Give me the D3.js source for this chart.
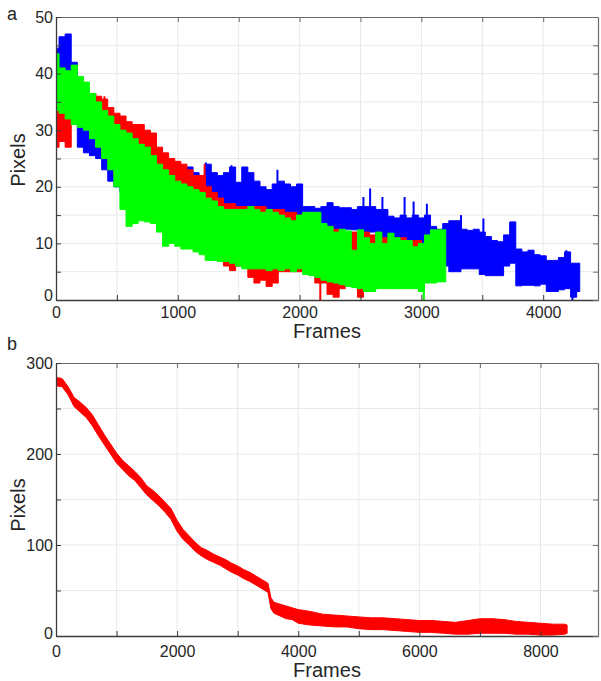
<!DOCTYPE html>
<html><head><meta charset="utf-8">
<script src="https://cdn.jsdelivr.net/npm/d3@7"></script>
<style>
body{margin:0;background:#fff}
svg{display:block}
text{font-family:"Liberation Sans",Arial,Helvetica,sans-serif;fill:#262626}
</style>
</head><body>
<svg id="chart" width="601" height="681"></svg>
<script>
// ---------- Panel a data (sampled every 50 frames; lower / upper envelope of each noisy trace) ----------
const aStep = 50;
const blueLo = [37,37,36,33,27,26,25.5,25,23,21,20,19,18,18,17,17,17,16,16,16,15,15,14,14,14,14,14,14,14,14,14,14,13.5,13.5,13.5,13.5,13,13,13,13,13,12.5,12.5,12.5,12.5,12.5,12.5,12.5,12.5,12.4,12,12,12,11.5,11,11,11,11,10.5,10.5,10,10,9,8,6,5,5,5.5,5.5,5.5,4.5,4.3,4.3,4.3,6,6.5,2.5,2.6,2.6,2.5,2.8,1.5,1.5,1.8,2,0.5,1.5];
const blueHi = [44.5,46.5,47,42,36,35,33,31,30,28,28,28,28,28.5,27,26.5,25.5,25,24,23.5,23,22.5,23.5,22.5,22,24,22.5,22,22.5,23.5,20.8,23.5,22.5,21,20,19.5,20.5,21,20.5,20,20.5,16.5,16.5,16.2,16.5,17.2,16.5,16.3,16.3,16,16.5,16.5,16.5,16,16,14.8,14.5,15,14.5,15,14.5,15,13,12.5,13.5,14,14,12.5,12.3,12.5,12,11.2,10.5,10.3,11.5,13.8,9,8.5,8.8,8,7.8,7,7,7.5,8.5,6.5,6.5];
const redLo = [27,28,27,31.5,31,30.5,29.5,28,26,24,22,21,20,19,18,17,16,15,14,13,12,11.5,11,10.5,10,9,8,7.5,6,5.2,6,6,4,3,3.5,2.4,3,5,5,5,5,6,4.7,3,3,1,0.5,2,3.5,3,0.5,3,3.5,3.5,3.5,3.5,3.5,3.5,3.5,3.5,3.5];
const redHi = [36.5,33,33,32.5,33,33.5,35,36,35.5,34,33,32.5,31.5,31,31,30,29.5,27,26,25,24.5,24,23,22,22,20,19,18,17,17,16.5,16.5,16.5,16.5,16.5,16,16,16,15.5,15.5,15,14.5,14,13.5,13,13,12.5,12,12,12,12,12,11.5,11.5,11,11,11,11,10.5,10.5,10.5];
const greenLo = [33.5,33,32,31,30.5,30,28.5,27,25,23,20,16,13,13.5,14,13.8,13.5,12,9.5,10,9.5,9,9,8.5,8,7,7,6.8,6.8,6.5,6,5.5,5.5,5.5,5.5,5.2,5.5,5.2,5.5,5,5.5,4.5,4.3,4,3.5,3.2,3,2.7,2.4,2.2,2,1.5,1.5,2,2,2,2,2,2,2,1.5,3,3,3.2,3.2];
const greenHi = [43.5,41,40.5,41.5,39.5,38.5,36.5,35,33.5,32.5,31,30,29.5,28.5,27.5,27,25.5,24,23,22,21,20.5,20,19.5,19,18,17.5,16.5,16,16,16,16,16.5,16,15.5,16,15.5,15,14.5,14,15,15.5,15.5,15.5,13.5,13,12,12.5,12.2,8.8,12.4,11,10,12,10,11.8,11,10.5,10.5,9.4,10,11.5,12.4,12.4,12.4];
// isolated spikes [frame, value]
const blueSpikes = [[1230,24.3],[1440,23.8],[1818,23],[2524,18.2],[2579,19.7],[2680,18.2],[2862,18.2],[2936,17.4],[3045,17],[3325,15],[3509,14.4],[3760,13.8],[4190,8.8],[4240,0]];
const redSpikes = [[324,36.5],[398,36],[2170,0],[1220,24]];
const greenSpikes = [[3020,0]];

// ---------- Panel b data ----------
const bFrames = [0,100,200,300,400,500,600,700,800,900,1000,1100,1200,1300,1400,1500,1600,1700,1800,1900,2000,2100,2200,2300,2400,2500,2600,2700,2800,2900,3000,3100,3200,3300,3400,3500,3550,3600,3700,3800,3900,4000,4200,4400,4600,4800,5000,5200,5400,5600,5800,6000,6200,6400,6600,6800,7000,7200,7400,7600,7800,8000,8200,8400,8440];
const bLo = [275,274,265,252,246,240,231,220,210,200,190,183,176,171,163,155,149,143,136,128,115,106,100,93,88,84,81,78,74,70,67,63,60,56,52,48,30,25,22,19,18,14,12,11,10,10,8,7,7,6,5,4,4,3,2,2,3,3,3,2,2,1,1,2,3];
const bHi = [284,283,274,262,257,251,243,232,221,211,201,193,187,181,174,165,160,154,147,140,127,117,110,103,97,94,90,87,84,80,77,73,70,66,62,58,42,37,35,33,31,29,27,24,23,22,21,20,20,19,18,17,17,16,15,17,19,19,18,16,15,14,13,13,12];

// ---------- Axis tick settings ----------
const aXTicks = [0,500,1000,1500,2000,2500,3000,3500,4000];
const aXLabels = [0,1000,2000,3000,4000];
const aYTicks = [0,5,10,15,20,25,30,35,40,45,50];
const aYLabels = [0,10,20,30,40,50];
const bXTicks = [0,1000,2000,3000,4000,5000,6000,7000,8000];
const bXLabels = [0,2000,4000,6000,8000];
const bYTicks = [0,50,100,150,200,250,300];
const bYLabels = [0,100,200,300];

const svg = d3.select("#chart");
const COL = {blue:"#0000ff", red:"#ff0000", green:"#00ff00"};

function toRows(frames, lo, hi){ return frames.map((f,i)=>({f, lo:lo[i], hi:hi[i]})); }

function panel(cfg){
  const x = d3.scaleLinear().domain([0,cfg.xmax]).range([56,598]);
  const y = d3.scaleLinear().domain([0,cfg.ymax]).range([cfg.y1,cfg.y0]);
  const g = svg.append("g");
  const clipId = "clip"+cfg.id;
  svg.append("clipPath").attr("id",clipId).append("rect")
    .attr("x",56).attr("y",cfg.y0-1).attr("width",542).attr("height",cfg.y1-cfg.y0+1);
  // grid
  g.append("g").selectAll("line").data(cfg.xTicks.filter(d=>d>0)).join("line")
    .attr("x1",d=>x(d)).attr("x2",d=>x(d)).attr("y1",cfg.y0).attr("y2",cfg.y1)
    .attr("stroke","#e9e9e9").attr("stroke-width",1);
  g.append("g").selectAll("line").data(cfg.yTicks.filter(d=>d>0&&d<cfg.ymax)).join("line")
    .attr("y1",d=>y(d)).attr("y2",d=>y(d)).attr("x1",56).attr("x2",598)
    .attr("stroke","#e9e9e9").attr("stroke-width",1);
  // series
  const sg = g.append("g").attr("clip-path",`url(#${clipId})`);
  cfg.series.forEach(s=>{
    const area = d3.area().x(d=>x(d.f)).y0(d=>y(d.lo)).y1(d=>y(d.hi)).curve(s.curve);
    sg.append("path").datum(s.rows).attr("d",area)
      .attr("fill",s.color).attr("stroke",s.color).attr("stroke-width",1);
    if(s.spikes){
      sg.append("g").selectAll("line").data(s.spikes).join("line")
        .attr("x1",d=>x(d[0])).attr("x2",d=>x(d[0]))
        .attr("y1",d=>y(d[1]))
        .attr("y2",d=>{
          const i = Math.max(0,Math.min(s.rows.length-1,d3.bisector(r=>r.f).center(s.rows,d[0])));
          const r = s.rows[i];
          return y((r.lo+r.hi)/2);
        })
        .attr("stroke",s.color).attr("stroke-width",2);
    }
  });
  // axes (inward ticks, box)
  const fs = 16;
  const ax = g.append("g").attr("transform",`translate(0,${cfg.y1})`)
    .call(d3.axisBottom(x).tickValues(cfg.xTicks).tickSizeInner(-5).tickSizeOuter(0)
      .tickPadding(cfg.xPad).tickFormat(d=>cfg.xLabels.includes(d)?d:""));
  const at = g.append("g").attr("transform",`translate(0,${cfg.y0})`)
    .call(d3.axisTop(x).tickValues(cfg.xTicks).tickSizeInner(-5).tickSizeOuter(0).tickFormat(""));
  const al = g.append("g").attr("transform",`translate(56,0)`)
    .call(d3.axisLeft(y).tickValues(cfg.yTicks).tickSizeInner(-5).tickSizeOuter(0)
      .tickPadding(3).tickFormat(d=>cfg.yLabels.includes(d)?d:""));
  const ar = g.append("g").attr("transform",`translate(598,0)`)
    .call(d3.axisRight(y).tickValues(cfg.yTicks).tickSizeInner(-5).tickSizeOuter(0).tickFormat(""));
  [ax,at,al,ar].forEach(a=>{
    a.attr("font-size",null).attr("font-family",null);
    a.selectAll("text").attr("font-size",fs).attr("fill","#262626");
  });
  // the bottom "0" label of the y axis sits slightly above the axis line
  al.selectAll(".tick").filter(d=>d===0).select("text").attr("y",-cfg.zeroLift);
  [ax,al].forEach(a=>{a.select(".domain").attr("stroke","#3a3a3a").attr("stroke-width",1.3);
    a.selectAll(".tick line").attr("stroke","#3a3a3a");});
  [at,ar].forEach(a=>{a.select(".domain").attr("stroke","#6a6a6a").attr("stroke-width",1.2);
    a.selectAll(".tick line").attr("stroke","#6a6a6a");});
  // axis titles
  g.append("text").attr("x",327).attr("y",cfg.xTitleY).attr("text-anchor","middle")
    .attr("font-size",20).text("Frames");
  g.append("text").attr("transform",`translate(25,${cfg.yTitleC}) rotate(-90)`)
    .attr("text-anchor","middle").attr("font-size",20).text("Pixels");
  g.append("text").attr("x",7).attr("y",cfg.letterY).attr("font-size",18).text(cfg.letter);
}

panel({
  id:"a", letter:"a", letterY:20, xmax:4450, ymax:50, y0:17, y1:300, xPad:7, zeroLift:5,
  xTitleY:337.5, yTitleC:160,
  xTicks:aXTicks, xLabels:aXLabels, yTicks:aYTicks, yLabels:aYLabels,
  series:[
    {color:COL.blue, curve:d3.curveStep, rows:toRows(d3.range(blueLo.length).map(i=>i*aStep), blueLo, blueHi), spikes:blueSpikes},
    {color:COL.red, curve:d3.curveStep, rows:toRows(d3.range(redLo.length).map(i=>i*aStep), redLo, redHi), spikes:redSpikes},
    {color:COL.green, curve:d3.curveStep, rows:toRows(d3.range(greenLo.length).map(i=>i*aStep), greenLo, greenHi), spikes:greenSpikes}
  ]
});

panel({
  id:"b", letter:"b", letterY:350, xmax:8950, ymax:300, y0:363, y1:636, xPad:9.5, zeroLift:3,
  xTitleY:676.5, yTitleC:505,
  xTicks:bXTicks, xLabels:bXLabels, yTicks:bYTicks, yLabels:bYLabels,
  series:[
    {color:COL.red, curve:d3.curveLinear, rows:toRows(bFrames, bLo, bHi)}
  ]
});
</script>
</body></html>
